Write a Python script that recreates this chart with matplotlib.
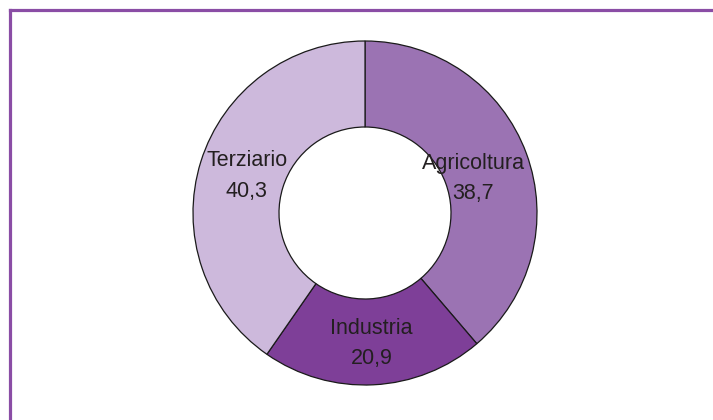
import numpy as np
import matplotlib.pyplot as plt
from matplotlib.lines import Line2D

# Sector shares of employment (%)
sectors = ['Agricoltura', 'Industria', 'Terziario']
values = [38.7, 20.9, 40.3]
colors = ['#9B73B3', '#7E3F98', '#CDB9DC']
label_dist = [0.66, 0.76, 0.72]
label_turn = [-2.5, 0, 0]  # small angular nudge of labels, degrees

W, H = 713, 420
fig = plt.figure(figsize=(W / 100, H / 100), dpi=100)
ax = fig.add_axes([0, 0, 1, 1])

cx, cy, R = 365, H - 213, 172
wedges, _ = ax.pie(values, colors=colors, startangle=90, counterclock=False,
                   center=(cx, cy), radius=R, frame=True,
                   wedgeprops=dict(width=R * 0.5, edgecolor='#1a1a1a', linewidth=0.9))
ax.set_xlim(0, W)
ax.set_ylim(0, H)
ax.set_aspect('equal')
ax.axis('off')

for w, name, v, d, t in zip(wedges, sectors, values, label_dist, label_turn):
    ang = np.deg2rad((w.theta1 + w.theta2) / 2 + t)
    x = cx + d * R * np.cos(ang)
    y = cy + d * R * np.sin(ang)
    ax.text(x, y, f"{name}\n{v:.1f}".replace('.', ','), ha='center', va='center',
            fontsize=15.5, family='Liberation Sans', color='#231F20', linespacing=1.6)

# purple frame on top and left
frame_col = '#8A4DA5'
fig.add_artist(Line2D([10 / W, 1], [1 - 10 / H, 1 - 10 / H], transform=fig.transFigure,
                      color=frame_col, linewidth=2.3, solid_capstyle='projecting'))
fig.add_artist(Line2D([10 / W, 10 / W], [0, 1 - 10 / H], transform=fig.transFigure,
                      color=frame_col, linewidth=2.3, solid_capstyle='projecting'))

fig.savefig('out.png', dpi=100)
